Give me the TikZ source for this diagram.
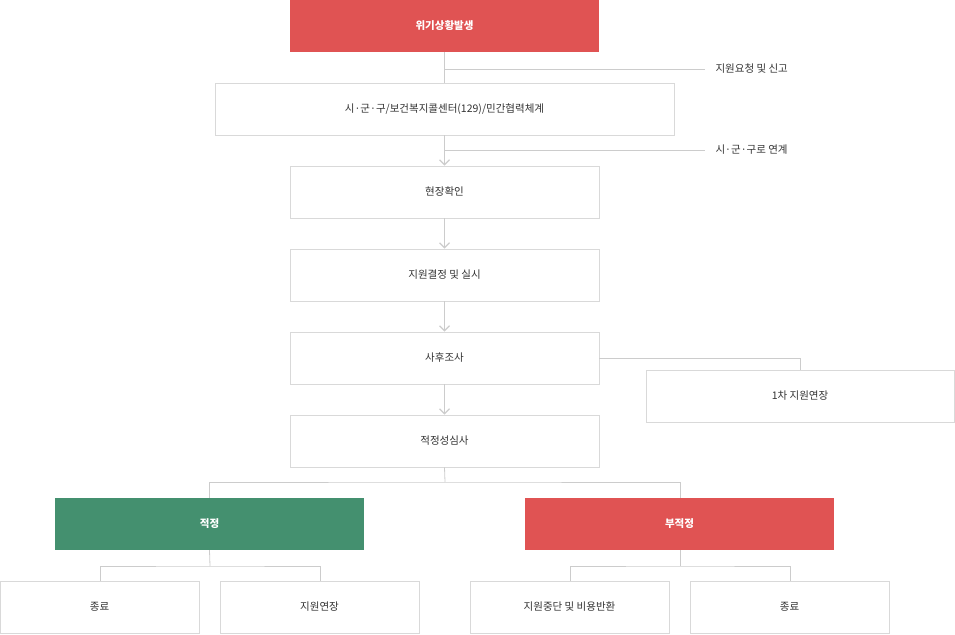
\documentclass[tikz,border=0pt]{standalone}
\usepackage{fontspec}
\setmainfont{Noto Sans CJK KR}
\usetikzlibrary{arrows.meta}
\definecolor{redf}{HTML}{E05353}
\definecolor{greenf}{HTML}{44906F}
\definecolor{ln}{HTML}{CCCCCC}
\definecolor{bd}{HTML}{D9D9D9}
\definecolor{tx}{HTML}{333333}
\begin{document}
\begin{tikzpicture}[x=1pt,y=-1pt,
 wbox/.style={draw=bd,line width=0.8pt,fill=white,text=tx,font=\fontsize{10.5}{12}\selectfont},
 cbox/.style={fill=#1,text=white,font=\bfseries\fontsize{10.5}{12}\selectfont},
 con/.style={draw=ln,line width=0.8pt},
 arr/.style={con,-{Straight Barb[length=5pt,width=10pt,line width=1.2pt]}},
 lbl/.style={text=tx,font=\fontsize{10.5}{12}\selectfont,anchor=west}]
\useasboundingbox (0,0) rectangle (955,634);
\newcommand\bx[6]{\node[#1,minimum width=#4-#2,minimum height=#5-#3,inner sep=0pt] (#6) at ({(#2+#4)/2},{(#3+#5)/2})}
\bx{cbox=redf}{290}{0}{599}{52}{a}{위기상황발생};
\bx{wbox}{215}{83}{674}{135}{b}{시·군·구/보건복지콜센터(129)/민간협력체계};
\bx{wbox}{290}{166}{599}{218}{c}{현장확인};
\bx{wbox}{290}{249}{599}{301}{d}{지원결정 및 실시};
\bx{wbox}{290}{332}{599}{384}{e}{사후조사};
\bx{wbox}{646}{370}{954}{422}{f}{1차 지원연장};
\bx{wbox}{290}{415}{599}{467}{g}{적정성심사};
\bx{cbox=greenf}{55}{498}{364}{550}{h}{적정};
\bx{cbox=redf}{525}{498}{834}{550}{i}{부적정};
\bx{wbox}{0}{581}{199}{633}{j}{종료};
\bx{wbox}{220}{581}{419}{633}{k}{지원연장};
\bx{wbox}{470}{581}{669}{633}{l}{지원중단 및 비용반환};
\bx{wbox}{690}{581}{889}{633}{m}{종료};
\coordinate (p1) at (705,69);
\coordinate (p2) at (705,150);
\node[lbl] (l1) at (712,69) {지원요청 및 신고};
\node[lbl] (l2) at (712,150) {시·군·구로 연계};
\draw[con] (a.south) -- (b.north);
\draw[con] (445,69) -- (p1);
\draw[arr] (b.south) -- (c.north);
\draw[con] (445,150) -- (p2);
\draw[arr] (c.south) -- (d.north);
\draw[arr] (d.south) -- (e.north);
\draw[arr] (e.south) -- (g.north);
\draw[con] (e.east) -| (f.north);
\draw[con] (g.south) -- (445,482);
\draw[con] (h.north) |- (445,482) -| (680,498);
\draw[con] (h.south) -- (210,566);
\draw[con] (100,581) |- (210,566) -| (320,581);
\draw[con] (680,550) -- (680,566);
\draw[con] (570,581) |- (680,566) -| (790,581);
\end{tikzpicture}
\end{document}
